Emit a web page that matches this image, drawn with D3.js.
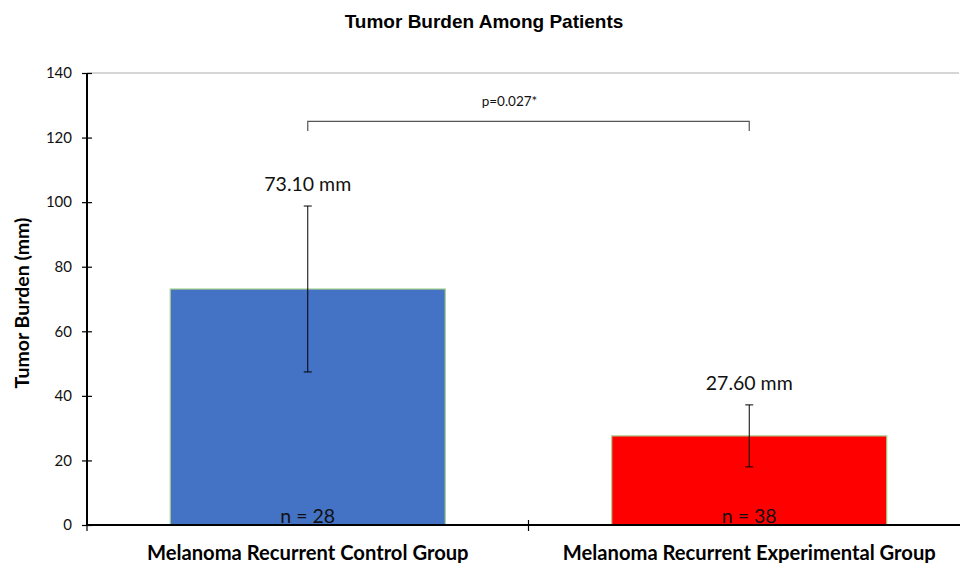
<!DOCTYPE html>
<html>
<head>
<meta charset="utf-8">
<script src="https://cdn.jsdelivr.net/npm/d3@7"></script>
<style>
  body { margin: 0; background: #fff; }
  svg { display: block; }
</style>
</head>
<body>
<svg id="chart" width="960" height="563"></svg>
<script>
// data
var groups = ["Melanoma Recurrent Control Group", "Melanoma Recurrent Experimental Group"];
var means = [73.10, 27.60];
var errors = [25.7, 9.6];
var counts = [28, 38];
var colors = ["#4472C4", "#FF0000"];
var yTicks = [0, 20, 40, 60, 80, 100, 120, 140];
var pText = "p=0.027*";
var bracketY = 125;

var svg = d3.select("#chart"),
    mLeft = 87, mRight = 970, mTop = 73, mBottom = 525;

var x = d3.scaleBand().domain(groups).range([mLeft, mRight]).paddingInner(0.377).paddingOuter(0.1885);
var y = d3.scaleLinear().domain([0, 140]).range([mBottom, mTop]);
var xc = function (d) { return x(d) + x.bandwidth() / 2; };

var labelFont = "Lato, 'Open Sans', sans-serif";

// title
svg.append("text").attr("x", 484).attr("y", 28).attr("text-anchor", "middle")
    .style("font", "bold 19px 'Liberation Sans', Arial, sans-serif").text("Tumor Burden Among Patients");

// top gridline
svg.append("line").attr("x1", mLeft).attr("x2", 959).attr("y1", y(140)).attr("y2", y(140))
    .attr("stroke", "#c8c8c8").attr("stroke-width", 1.3);

// y axis
var yAxis = svg.append("g").attr("transform", "translate(" + mLeft + ",0)")
    .call(d3.axisLeft(y).tickValues(yTicks).tickSize(5).tickPadding(10).tickFormat(d3.format("d")));
yAxis.select(".domain").attr("stroke", "#000").attr("stroke-width", 2).attr("d", "M0," + y(140) + "V" + mBottom);
yAxis.selectAll(".tick line").attr("x1", -5).attr("x2", 5).attr("stroke-width", 1.2);
yAxis.selectAll(".tick text").style("font", "15px " + labelFont).attr("fill", "#111");

// y axis title
svg.append("text").attr("transform", "translate(29," + 303 + ") rotate(-90)")
    .attr("text-anchor", "middle").style("font", "bold 19.5px " + labelFont).attr("fill", "#000")
    .text("Tumor Burden (mm)");

// bars
svg.selectAll("rect.bar").data(groups).enter().append("rect").attr("class", "bar")
    .attr("x", function (d) { return x(d); })
    .attr("width", x.bandwidth())
    .attr("y", function (d, i) { return y(means[i]); })
    .attr("height", function (d, i) { return mBottom - y(means[i]); })
    .attr("fill", function (d, i) { return colors[i]; })
    .attr("stroke", "#a9d18e").attr("stroke-width", 1.2);

// x axis
svg.append("line").attr("x1", mLeft).attr("x2", 960).attr("y1", mBottom).attr("y2", mBottom)
    .attr("stroke", "#000").attr("stroke-width", 2);
var xTicks = [mLeft, x(groups[0]) + x.bandwidth() + x.step() * x.paddingInner() / 2];
svg.selectAll("line.xtick").data(xTicks).enter().append("line").attr("class", "xtick")
    .attr("x1", function (d) { return d; }).attr("x2", function (d) { return d; })
    .attr("y1", function (d, i) { return i === 0 ? mBottom : mBottom - 5; }).attr("y2", mBottom + 6)
    .attr("stroke", "#000").attr("stroke-width", 1.2);

// error bars
var eb = svg.selectAll("g.err").data(groups).enter().append("g").attr("class", "err");
eb.append("line")
    .attr("x1", xc).attr("x2", xc)
    .attr("y1", function (d, i) { return y(means[i] + errors[i]); })
    .attr("y2", function (d, i) { return y(means[i] - errors[i]); })
    .attr("stroke", "#000").attr("stroke-width", 1);
[1, -1].forEach(function (s) {
  eb.append("line")
      .attr("x1", function (d) { return xc(d) - 4; }).attr("x2", function (d) { return xc(d) + 4; })
      .attr("y1", function (d, i) { return y(means[i] + s * errors[i]); })
      .attr("y2", function (d, i) { return y(means[i] + s * errors[i]); })
      .attr("stroke", "#000").attr("stroke-width", 1);
});

// value labels
svg.selectAll("text.val").data(groups).enter().append("text").attr("class", "val")
    .attr("x", xc).attr("y", function (d, i) { return y(means[i] + errors[i]) - 15; })
    .attr("text-anchor", "middle").style("font", "19.5px " + labelFont).attr("fill", "#111")
    .text(function (d, i) { return means[i].toFixed(2) + " mm"; });

// n labels
svg.selectAll("text.n").data(groups).enter().append("text").attr("class", "n")
    .attr("x", xc).attr("y", mBottom - 2)
    .attr("text-anchor", "middle").style("font", "19.5px " + labelFont).attr("fill", "#111")
    .text(function (d, i) { return "n = " + counts[i]; });

// category labels
svg.selectAll("text.cat").data(groups).enter().append("text").attr("class", "cat")
    .attr("x", xc).attr("y", 560)
    .attr("text-anchor", "middle").style("font", "bold 20.2px " + labelFont).attr("fill", "#000")
    .text(function (d) { return d; });

// significance bracket
var bx1 = xc(groups[0]), bx2 = xc(groups[1]);
svg.append("path")
    .attr("d", "M" + bx1 + "," + y(bracketY - 3) + "V" + y(bracketY) + "H" + bx2 + "V" + y(bracketY - 3))
    .attr("fill", "none").attr("stroke", "#555").attr("stroke-width", 1.2);
svg.append("text").attr("x", (bx1 + bx2) / 2 - 19).attr("y", 106).attr("text-anchor", "middle")
    .style("font", "13.5px " + labelFont).attr("fill", "#111").text(pText);
</script>
</body>
</html>
